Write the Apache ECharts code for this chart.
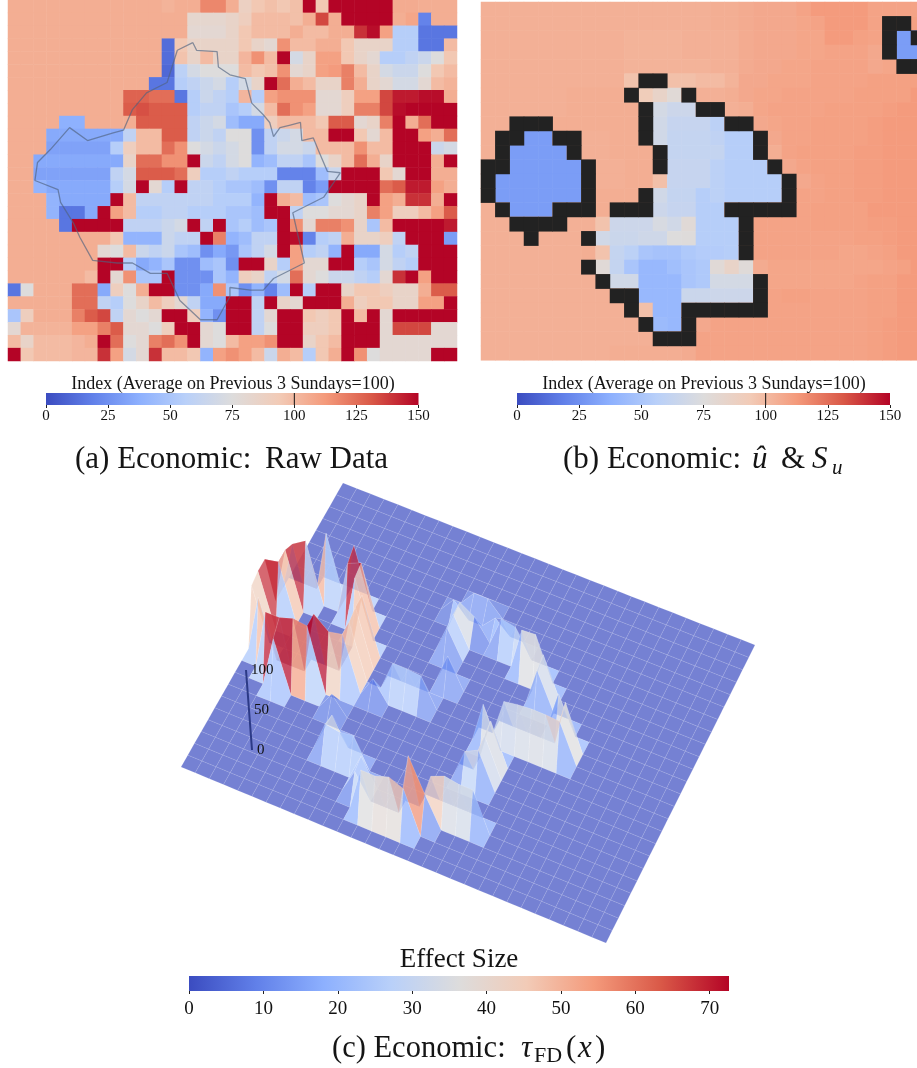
<!DOCTYPE html>
<html><head><meta charset="utf-8">
<style>html,body{margin:0;padding:0;background:#fff;overflow:hidden}#c{width:917px;height:1068px}</style>
<script src="https://cdn.jsdelivr.net/npm/echarts@6/dist/echarts.min.js"></script>
</head><body><div id="c"></div>
<script>
const COOLWARM=['#3b4cc0','#6180e9','#8db0fe','#b9d0f9','#dddcdc','#f2cbb7','#f49a7b','#d95847','#b40426'];
const rawData=[
[105,105,105,105,105,105,105,105,105,105,105,105,103,105,105,118,118,105,88,95,98,95,98,150,95,150,150,150,150,150,106,106,105,105,105],
[105,105,105,105,105,105,105,105,105,105,105,105,105,105,82,82,82,85,90,100,100,100,98,105,135,105,150,150,150,150,105,108,20,105,105],
[105,105,105,105,105,105,105,105,105,105,105,105,105,105,80,80,80,85,95,100,100,100,105,100,100,105,105,140,148,110,55,55,15,15,15],
[105,105,105,105,105,105,105,105,105,105,105,105,12,95,85,85,85,85,95,85,80,115,100,100,105,105,95,85,85,85,55,55,15,15,100],
[105,105,105,105,105,105,105,105,105,105,105,105,12,97,85,100,85,85,102,115,100,150,70,85,110,110,95,85,80,55,55,60,65,75,95],
[105,105,105,105,105,105,105,105,105,105,105,105,10,58,70,75,75,75,100,95,98,115,80,85,110,112,120,100,85,70,65,65,75,95,100],
[105,105,105,105,105,105,105,105,105,105,105,15,15,55,60,65,70,55,70,85,150,125,105,100,85,85,120,105,85,80,70,70,80,100,103],
[105,105,105,105,105,105,105,105,105,128,128,125,125,15,55,65,60,55,102,55,110,115,115,115,80,80,90,110,110,135,145,145,148,148,105],
[105,105,105,105,105,105,105,105,105,130,133,130,130,130,55,60,60,50,55,70,100,125,115,110,80,80,90,120,120,135,148,150,150,150,150],
[105,105,105,105,38,38,105,105,105,105,130,130,130,130,60,65,70,45,35,35,90,100,100,100,95,130,130,80,85,120,150,105,125,150,150],
[105,105,105,35,35,35,35,35,35,60,100,100,130,130,60,65,60,75,75,25,60,65,70,100,100,150,150,95,80,100,150,150,110,105,125],
[105,105,105,32,32,32,32,32,55,90,100,100,125,115,75,70,65,70,75,25,60,70,70,65,100,100,100,115,100,100,150,150,150,65,70],
[105,105,35,35,35,35,35,35,35,85,125,125,115,115,150,65,60,70,75,40,45,60,60,50,75,85,100,125,105,85,150,150,150,105,150],
[105,105,32,32,32,32,32,32,60,70,130,130,130,125,90,55,55,60,55,55,55,20,20,20,45,65,150,150,150,95,80,150,150,105,105],
[105,105,40,35,35,35,35,35,55,70,150,80,55,150,60,60,55,50,50,45,25,60,60,20,30,150,150,150,150,125,130,145,145,110,105],
[105,105,105,40,35,35,35,35,150,100,60,60,60,60,60,60,55,55,55,40,150,105,100,45,50,75,80,85,150,110,105,140,140,105,150],
[105,105,105,40,15,15,35,150,110,100,55,55,60,60,55,55,55,50,50,45,150,150,60,75,75,80,80,85,120,110,90,90,100,110,130],
[105,105,105,105,15,150,150,150,150,60,60,60,65,70,150,60,150,50,55,45,50,150,115,80,120,120,115,85,50,100,150,150,150,150,145],
[105,105,105,105,105,105,105,105,95,40,40,40,65,60,60,150,120,40,45,60,60,150,148,20,55,60,105,85,85,90,60,150,150,150,30],
[105,105,105,105,105,105,105,80,75,100,65,60,65,50,45,25,35,28,50,60,70,150,110,55,60,40,150,35,35,70,55,60,150,150,150],
[105,105,105,105,105,105,105,150,150,55,35,40,50,25,25,45,50,25,150,150,85,55,110,80,80,150,150,55,50,70,60,55,150,150,150],
[105,105,105,105,105,105,100,150,80,115,50,50,150,25,25,25,50,40,90,85,60,70,125,80,75,65,65,60,55,80,140,150,110,150,150],
[15,75,105,105,105,125,125,35,90,75,105,150,150,25,25,35,115,50,25,40,20,45,150,55,150,150,85,95,95,90,85,85,105,130,130],
[105,105,105,105,105,125,125,60,55,75,85,100,90,80,60,35,35,150,150,60,150,85,80,150,150,150,105,90,95,95,85,85,110,110,150],
[50,90,105,105,105,120,130,135,60,80,75,80,150,150,90,40,25,150,150,60,80,150,150,95,90,95,150,100,150,80,150,150,150,150,150],
[80,103,103,103,103,110,110,120,130,80,80,75,90,150,150,80,75,150,150,60,75,150,150,90,90,95,150,150,150,80,135,135,135,80,80],
[100,85,100,100,100,102,105,150,125,75,80,120,125,115,150,80,75,100,110,110,115,150,150,85,95,100,150,150,150,80,80,80,80,80,80],
[150,95,100,100,100,102,102,140,110,70,80,140,100,100,95,40,110,115,110,100,65,105,100,55,95,105,150,115,75,80,80,80,80,150,150]
];
const estimateData=[
[104,104,104,104,104,104,104,104,104,104,104,104,104,104,104,104,105,105,106,107,107,107,109,112,112,112,112,109,109,109,109],
[104,104,104,104,104,104,104,104,104,104,104,104,104,104,104,104,105,105,106,107,107,107,108,109,112,112,112,109,110,110,110],
[104,104,104,104,104,104,104,104,104,104,103,103,103,103,104,104,104,104,106,107,107,107,108,108,112,112,110,109,110,30,30],
[104,104,104,104,104,104,104,104,104,104,103,103,103,103,104,104,104,104,106,107,107,107,108,108,109,109,109,107,107,30,30],
[104,104,104,104,104,104,104,104,104,104,103,103,103,103,103,103,104,104,106,107,107,108,108,109,109,109,109,107,108,110,110],
[104,104,104,104,104,104,104,104,104,104,97,104,104,98,98,100,100,103,107,107,108,108,108,109,109,109,109,110,110,110,110],
[104,104,104,104,104,104,105,105,105,105,105,92,85,78,103,104,104,105,107,108,108,109,109,109,109,109,110,110,110,110,112],
[104,104,104,104,104,104,105,105,105,105,105,105,70,66,66,103,103,104,105,108,109,109,109,109,110,110,110,110,111,112,112],
[104,104,104,104,104,105,105,105,105,105,105,105,68,63,63,63,58,105,105,107,108,109,109,110,110,110,110,111,112,112,112],
[104,104,104,30,30,104,104,104,104,105,105,105,68,62,62,62,60,55,55,107,107,109,109,110,110,110,110,111,112,112,112],
[104,104,30,30,30,30,104,104,104,105,105,105,105,62,62,62,62,55,55,105,105,109,110,110,110,110,111,111,112,112,112],
[104,104,30,30,30,30,30,104,104,104,105,105,105,63,63,63,58,55,55,55,107,107,109,110,110,110,111,111,112,112,112],
[104,30,30,30,30,30,30,104,104,104,105,105,98,63,63,63,58,55,55,55,55,107,107,109,110,110,111,111,112,112,112],
[104,30,30,30,30,30,30,104,105,105,105,105,68,62,62,55,58,55,55,55,55,107,109,109,110,110,111,111,112,112,112],
[104,104,30,30,30,104,104,104,105,105,105,105,66,63,63,55,55,109,109,109,109,109,109,110,110,110,110,112,112,112,112],
[104,104,104,104,104,104,104,104,97,66,66,66,72,68,78,55,55,55,109,109,109,109,109,110,110,110,110,111,111,112,112],
[104,104,104,104,104,104,104,104,68,65,65,67,67,75,76,55,55,55,109,109,109,109,109,109,109,109,110,110,111,112,112],
[104,104,104,104,104,104,104,105,97,62,58,50,48,48,52,54,54,55,109,109,109,109,109,109,109,108,108,109,110,112,112],
[104,104,104,104,104,104,104,104,78,62,50,42,42,46,50,52,78,85,77,106,108,108,108,108,108,108,108,108,109,110,112],
[104,104,104,104,104,104,104,104,104,68,68,42,42,42,50,52,70,70,70,108,108,108,108,108,108,108,109,110,110,112,112],
[104,104,104,104,104,104,104,104,104,104,104,42,42,42,65,65,66,66,66,109,109,110,110,109,109,109,109,110,110,112,112],
[104,104,104,104,104,104,104,104,104,104,104,98,42,42,109,109,109,109,109,109,109,109,109,109,109,109,109,110,110,112,112],
[104,104,104,104,104,104,104,104,104,104,104,104,44,42,109,107,109,109,109,109,109,109,109,109,109,109,109,110,111,112,112],
[104,104,104,104,104,104,104,104,104,104,104,104,104,104,104,109,109,109,109,109,109,109,109,109,109,109,109,110,111,112,112],
[104,104,104,104,104,104,104,104,104,105,105,105,105,105,106,109,109,109,109,109,109,109,109,109,109,109,109,110,111,112,112]
];
const supportCols=[28,29,28,30,28,29,30,11,12,10,14,11,15,16,2,3,4,11,17,18,1,2,5,6,11,19,1,6,12,19,0,1,7,12,20,0,7,21,0,7,11,21,1,5,6,7,9,10,11,17,18,19,20,21,2,3,4,5,18,3,7,18,18,7,8,19,9,10,19,10,14,15,16,17,18,19,11,14,12,13,14];
const supportRows=[1,1,2,2,3,4,4,5,5,6,6,7,7,7,8,8,8,8,8,8,9,9,9,9,9,9,10,10,10,10,11,11,11,11,11,12,12,12,13,13,13,13,14,14,14,14,14,14,14,14,14,14,14,14,15,15,15,15,15,16,16,16,17,18,19,19,20,20,20,21,21,21,21,21,21,21,22,22,23,23,23];
const borderX=[14.4,13.2,12.4,10.8,9.7,9.0,8.2,6.2,4.8,3.3,2.3,2.1,3.9,4.1,5.1,5.6,6.6,8.5,9.7,11.1,12.4,13.4,15,16.3,17.3,17.3,18.9,19.9,20.7,23.1,22.2,24.6,25.9,24.9,24.3,23.8,22.9,22.8,22,21.2,20.7,20.4,19.9,19,18.5,17.3,16.4,16.3,14.7,14.4];
const borderY=[3.3,3.9,6.4,7.2,8.5,10.1,10.3,10.9,9.9,11.6,12.6,14.0,14.7,15.7,17.3,18.4,20.2,20.4,20.4,21.2,21.2,23.3,24.8,24.8,23,22.3,22.5,22.5,21.6,20.4,16.5,15.3,13.4,13.3,11.9,10.7,10.9,9.5,9.7,9.9,10.6,9.5,8.9,8,6.1,5.8,5.2,4,3.9,3.3];
const tauCols=[3,5,1,2,5,6,1,6,0,1,7,0,7,0,7,1,5,6,7,2,3,4,5,3, 12,13,11,14,12,13,12,12,13,9,10,11,12,7,8,8,9,10,11,11,12,13,14,15,15,16,16,17,18,19, 15,16,17,18,19,19,21,22,18,19,20,21,22,17,18,18,18,17];
const tauRows=[8,8,9,9,9,9,10,10,11,11,11,12,12,13,13,14,14,14,14,15,15,15,15,16, 5,5,6,6,7,7,8,9,11,14,13,13,13,16,18,19,19,19,20,21,22,22,22,22,21,21,20,20,20,20, 7,7,8,8,9,10,11,12,13,13,13,13,13,14,15,16,17,17];
const tauValues=[102,100,85,100,90,100,95,95,90,95,95,90,95,85,90,95,105,85,90,100,100,108,105,85, 25,25,25,22,50,35,50,48,50,35,50,50,48,30,45,50,46,50,45,40,72,72,80,70,105,50,60,70,66,66, 50,45,70,72,68,62,62,78,62,66,68,68,66,68,70,66,62,50];
const tickA=[0,25,50,75,100,125,150];
const tickC=[0,10,20,30,40,50,60,70];
const zAxisTicks=[0,50,100];
const barMark=[100];
const colorbarTitle='Index (Average on Previous 3 Sundays=100)';

// viewing set-up for the 3-D panel
const N_COL=31,N_ROW=25;
const VIEW={top:[343,483],right:[755,645],bottom:[606,943],left:[181,767],zPx:60,axisPx:80,tilt:-0.075,axisBase:[252,750],cmax:72.6,alpha:0.7};
const zGrid=[];for(let r=0;r<N_ROW;r++){zGrid.push(new Array(N_COL).fill(0));}
tauCols.forEach((c,i)=>{zGrid[tauRows[i]][c]=tauValues[i];});
function project(c,r,z){
  const u=c/(N_COL-1),v=r/(N_ROW-1);
  const lx=VIEW.top[0]+(VIEW.left[0]-VIEW.top[0])*v, ly=VIEW.top[1]+(VIEW.left[1]-VIEW.top[1])*v;
  const rx=VIEW.right[0]+(VIEW.bottom[0]-VIEW.right[0])*v, ry=VIEW.right[1]+(VIEW.bottom[1]-VIEW.right[1])*v;
  const h=VIEW.zPx*z/100;
  return [lx+(rx-lx)*u+VIEW.tilt*h, ly+(ry-ly)*u-h];
}
function hexRgb(h){return [1,3,5].map(i=>parseInt(h.substr(i,2),16));}
function colormap(t){
  t=Math.max(0,Math.min(1,t));const p=t*(COOLWARM.length-1),i=Math.min(Math.floor(p),COOLWARM.length-2),f=p-i;
  const a=hexRgb(COOLWARM[i]),b=hexRgb(COOLWARM[i+1]);
  return a.map((x,k)=>Math.round(x+(b[k]-x)*f));
}
const quads=[];
for(let r=0;r<N_ROW-1;r++)for(let c=0;c<N_COL-1;c++){quads.push([c,r,project(c+.5,r+.5,0)[1]]);}
quads.sort((p,q)=>p[2]-q[2]);

function renderQuad(params,api){
  const c=api.value(0),r=api.value(1);
  const corners=[[c,r],[c+1,r],[c+1,r+1],[c,r+1]];
  let sum=0;
  const pts=corners.map(([a,b])=>{const z=zGrid[b][a];sum+=z;return api.coord(project(a,b,z));});
  const rgb=colormap(sum/4/VIEW.cmax);
  return {type:'polygon',shape:{points:pts},style:{fill:`rgba(${rgb[0]},${rgb[1]},${rgb[2]},${VIEW.alpha})`,stroke:'rgba(255,255,255,0.17)',lineWidth:0.6}};
}
const stops=COOLWARM.map((col,i)=>({offset:i/(COOLWARM.length-1),color:col}));
function renderBar(params,api){
  const a=api.coord([api.value(0),0]),b=api.coord([api.value(1),1]);
  return {type:'rect',shape:{x:a[0],y:b[1],width:b[0]-a[0],height:a[1]-b[1]},style:{fill:new echarts.graphic.LinearGradient(0,0,1,0,stops)}};
}
function renderMark(params,api){
  const a=api.coord([api.value(0),0]),b=api.coord([api.value(0),1]);
  return {type:'line',shape:{x1:a[0],y1:a[1],x2:b[0],y2:b[1]},style:{stroke:'#111',lineWidth:1}};
}
const SERIF='"Liberation Serif"';
const idx=n=>Array.from({length:n},(_,i)=>i);
const cells=m=>{const o=[];m.forEach((row,r)=>row.forEach((v,c)=>o.push([c,r,v])));return o;};
const hiddenCat=(g,n,inv)=>({type:'category',gridIndex:g,data:idx(n),show:false,inverse:!!inv});
function gridBox(left,top,width,height){return {left,top,width,height,outerBoundsMode:'none'};}
function barX(g,max,ticks,fs,margin){return {type:'value',gridIndex:g,min:0,max,position:'bottom',
  axisLine:{show:false},splitLine:{show:false},axisTick:{show:true,length:3,customValues:ticks,lineStyle:{color:'#222',width:1}},
  axisLabel:{color:'#111',fontFamily:SERIF,fontSize:fs,margin,customValues:ticks,hideOverlap:false}};}
function barY(g){return {type:'value',gridIndex:g,min:0,max:1,show:false};}
function txt(text,x,y,size,align,italic){return {type:'text',x,y,silent:true,style:{text,font:`${italic?'italic ':''}${size}px ${SERIF}`,fill:'#151515',textAlign:align||'left',textVerticalAlign:'middle'}};}

const chart=echarts.init(document.getElementById('c'),null,{renderer:'canvas',width:917,height:1068});
chart.setOption({
  animation:false,backgroundColor:'#fff',
  grid:[
    gridBox(8,0,449,361),
    gridBox(8,0,449,361),
    gridBox(481,2,444.3,358.3),
    gridBox(0,0,917,1068),
    gridBox(46,393,372.5,12),
    gridBox(517,393,373,12),
    gridBox(189,976,540,15)
  ],
  xAxis:[hiddenCat(0,35),{type:'value',gridIndex:1,min:0,max:35,show:false},hiddenCat(2,31),
    {type:'value',gridIndex:3,min:0,max:917,show:false},
    barX(4,150,tickA,15,4),barX(5,150,tickA,15,4),barX(6,72.6,tickC,19,9)],
  yAxis:[hiddenCat(0,28,true),{type:'value',gridIndex:1,min:0,max:28,inverse:true,show:false},hiddenCat(2,25,true),
    {type:'value',gridIndex:3,min:0,max:1068,inverse:true,show:false},
    barY(4),barY(5),barY(6)],
  visualMap:[
    {show:false,seriesIndex:[0,2],min:0,max:150,inRange:{color:COOLWARM}},
    {show:false,seriesIndex:[3],min:0,max:1,inRange:{color:['#222222','#222222']}}
  ],
  graphic:[
    txt('(a) Economic:',75,460,31),
    txt('Raw Data',265,460,31),
    txt('(b) Economic:',563,460,31),
    txt('û',752,460,31,'left',true),
    txt('&',781,460,31),
    txt('S',812,460,31,'left',true),
    txt('u',832,468,21,'left',true),
    txt('Effect Size',459,960,27,'center'),
    txt('(c) Economic:',332,1049,30.5),
    txt('τ',521,1049,31,'left',true),
    txt('FD',534,1056,22),
    txt('(',566,1049,31),
    txt('x',578,1049,31,'left',true),
    txt(')',595,1049,31),
    txt(colorbarTitle,233,384,18,'center'),
    txt(colorbarTitle,704,384,18,'center')
  ],
  series:[
    {type:'heatmap',xAxisIndex:0,yAxisIndex:0,data:cells(rawData),silent:true,progressive:0,itemStyle:{borderWidth:0}},
    {type:'line',xAxisIndex:1,yAxisIndex:1,data:borderX.map((x,i)=>[x,borderY[i]]),showSymbol:false,silent:true,lineStyle:{color:'#50627f',width:1.3,opacity:0.65}},
    {type:'heatmap',xAxisIndex:2,yAxisIndex:2,data:cells(estimateData),silent:true,progressive:0,itemStyle:{borderWidth:0}},
    {type:'heatmap',xAxisIndex:2,yAxisIndex:2,data:supportCols.map((c,i)=>[c,supportRows[i],1]),silent:true,progressive:0,z:3},
    {type:'custom',xAxisIndex:3,yAxisIndex:3,renderItem:renderQuad,data:quads.map(q=>[q[0],q[1]]),encode:{x:0,y:1},silent:true,clip:false,progressive:0,z:4},
    {type:'line',xAxisIndex:3,yAxisIndex:3,z:5,silent:true,symbolSize:0,showSymbol:true,
      data:zAxisTicks.map(t=>({value:[VIEW.axisBase[0]+VIEW.tilt*VIEW.axisPx*t/100,VIEW.axisBase[1]-VIEW.axisPx*t/100],name:String(t)})),
      lineStyle:{color:'#2c3a86',width:2},
      label:{show:true,position:'right',distance:5,formatter:p=>p.name,color:'#111',fontFamily:SERIF,fontSize:15}},
    {type:'custom',xAxisIndex:4,yAxisIndex:4,renderItem:renderBar,data:[[tickA[0],tickA[6]]],silent:true,encode:{x:[0,1]}},
    {type:'custom',xAxisIndex:5,yAxisIndex:5,renderItem:renderBar,data:[[tickA[0],tickA[6]]],silent:true,encode:{x:[0,1]}},
    {type:'custom',xAxisIndex:6,yAxisIndex:6,renderItem:renderBar,data:[[0,VIEW.cmax]],silent:true,encode:{x:[0,1]}},
    {type:'custom',xAxisIndex:4,yAxisIndex:4,renderItem:renderMark,data:barMark.map(v=>[v]),silent:true,encode:{x:0},z:3},
    {type:'custom',xAxisIndex:5,yAxisIndex:5,renderItem:renderMark,data:barMark.map(v=>[v]),silent:true,encode:{x:0},z:3}
  ]
});
</script></body></html>
